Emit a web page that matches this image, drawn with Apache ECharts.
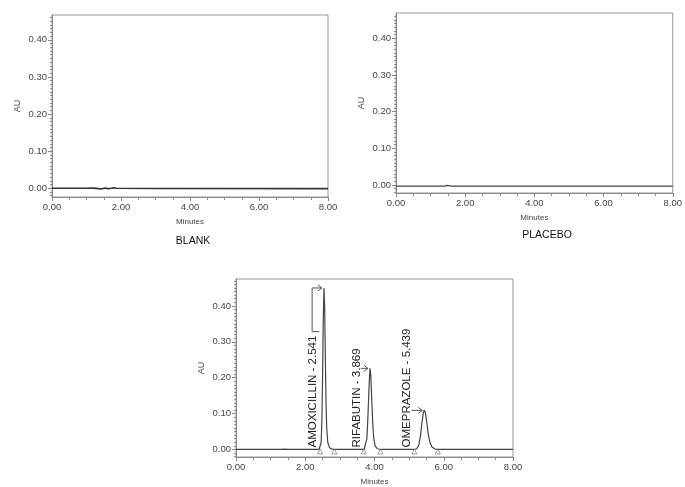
<!DOCTYPE html>
<html lang="en">
<head>
  <meta charset="UTF-8">
  <title>Chromatograms</title>
  <style>
    html, body { margin: 0; padding: 0; background: #fff; }
    #main { width: 685px; height: 487px; }
  </style>
  <script src="https://cdn.jsdelivr.net/npm/echarts@6/dist/echarts.min.js"></script>
</head>
<body>
  <div id="main"></div>
  <script>
    // tick labels
    var xTicks = [0, 2, 4, 6, 8];
    var yTicks = [0, 0.1, 0.2, 0.3, 0.4];
    var panelTitles = ['BLANK', 'PLACEBO'];

    // traces, [minutes, AU]
    var blankTrace = [
      [0, 0], [1.0, 0], [1.2, 0.0005], [1.35, -0.001], [1.45, -0.0015], [1.5, -0.002],
      [1.55, 0.001], [1.62, -0.001], [1.72, 0], [1.8, 0.0015], [1.86, 0], [3, -0.0005], [8, -0.001]
    ];
    var placeboTrace = [
      [0, -0.003], [1.4, -0.003], [1.48, -0.001], [1.52, -0.004], [1.6, -0.003], [8, -0.003]
    ];
    var sampleTrace = [
      [0, 0], [1.3, 0], [1.4, 0.001], [1.45, -0.001], [1.5, 0], [2.40, 0],
      [2.43, 0.002], [2.46, 0.02], [2.48, 0.08], [2.50, 0.2], [2.52, 0.36], [2.541, 0.45],
      [2.56, 0.40], [2.58, 0.26], [2.60, 0.13], [2.62, 0.06], [2.65, 0.02], [2.70, 0.005],
      [2.78, 0.001], [2.84, 0], [3.70, 0],
      [3.75, 0.005], [3.78, 0.03], [3.81, 0.09], [3.84, 0.17], [3.869, 0.226], [3.89, 0.21],
      [3.92, 0.14], [3.95, 0.07], [3.98, 0.03], [4.02, 0.01], [4.08, 0.002], [4.17, 0], [5.15, 0],
      [5.22, 0.002], [5.28, 0.012], [5.33, 0.04], [5.37, 0.075], [5.41, 0.102], [5.439, 0.109],
      [5.47, 0.102], [5.51, 0.075], [5.55, 0.045], [5.60, 0.02], [5.66, 0.007], [5.75, 0.001],
      [5.83, 0], [8, 0]
    ];

    // peaks
    var peakNames = ['AMOXICILLIN', 'RIFABUTIN', 'OMEPRAZOLE'];
    var peakTimes = [2.541, 3.869, 5.439];
    var peakHeights = [0.45, 0.226, 0.109];
    var peakStarts = [2.43, 3.69, 5.15];
    var peakEnds = [2.84, 4.17, 5.83];

    var FONT = '"Liberation Sans", Arial, sans-serif';
    var minorY = [];
    for (var k = -2; k <= 47; k++) minorY.push(k / 100);

    var grids = [
      { left: 52, top: 15, width: 276, height: 182, ymin: -0.0235, ymax: 0.467 },
      { left: 396, top: 13, width: 277, height: 180, ymin: -0.022, ymax: 0.469 },
      { left: 236, top: 279, width: 277, height: 181, ymin: -0.021, ymax: 0.475 }
    ];

    var xAxes = [], yAxes = [];
    grids.forEach(function (g, i) {
      xAxes.push({
        type: 'value', gridIndex: i, min: 0, max: 8, interval: 2,
        name: 'Minutes', nameLocation: 'middle', nameGap: 21,
        nameTextStyle: { fontFamily: FONT, fontSize: 8, color: '#444' },
        axisLine: { onZero: false, lineStyle: { color: '#888', width: 1 } },
        axisTick: { length: 4, lineStyle: { color: '#888' } },
        minorTick: { show: true, splitNumber: 4, length: 3, lineStyle: { color: '#888' } },
        axisLabel: { fontFamily: FONT, fontSize: 9.5, color: '#444', margin: 5,
          formatter: function (v) { return v.toFixed(2); } },
        splitLine: { show: false }
      });
      yAxes.push({
        type: 'value', gridIndex: i, min: g.ymin, max: g.ymax, position: 'left',
        name: 'AU', nameLocation: 'middle', nameGap: 30,
        nameTextStyle: { fontFamily: FONT, fontSize: 9, color: '#444' },
        axisLine: { show: true, lineStyle: { color: '#888', width: 1 } },
        axisTick: { length: 4, customValues: yTicks, lineStyle: { color: '#888' } },
        axisLabel: { fontFamily: FONT, fontSize: 9.5, color: '#444', margin: 5, customValues: yTicks,
          formatter: function (v) { return v.toFixed(2); } },
        splitLine: { show: false }
      });
      // minor ticks on the same side
      yAxes.push({
        type: 'value', gridIndex: i, min: g.ymin, max: g.ymax, position: 'left',
        axisLine: { show: false },
        axisTick: { length: 2, customValues: minorY, lineStyle: { color: '#888' } },
        axisLabel: { show: false },
        splitLine: { show: false }
      });
    });

    var measureCtx = document.createElement('canvas').getContext('2d');
    var LABEL_FONT = '11.5px ' + FONT;
    measureCtx.font = LABEL_FONT;

    function renderPeakLabel(params, api) {
      var i = params.dataIndex;
      var apex = api.coord([peakTimes[i], peakHeights[i]]);
      var start = api.coord([peakStarts[i], 0]);
      var cx = start[0] - 7;
      var baseY = start[1] - 2;
      var text = peakNames[i] + ' - ' + peakTimes[i].toFixed(3);
      var w = measureCtx.measureText(text).width;
      var topY = baseY - w;
      var ax = apex[0] - 2, ay = apex[1];
      var pts;
      if (topY - 4 > ay) {
        pts = [[cx + 6, topY - 4], [cx - 1, topY - 4], [cx - 1, ay], [ax, ay]];
      } else {
        pts = [[cx + 4, ay], [ax, ay]];
      }
      return {
        type: 'group',
        children: [
          { type: 'text', x: cx, y: baseY, rotation: Math.PI / 2,
            style: { text: text, font: LABEL_FONT, fill: '#222', align: 'left', verticalAlign: 'middle' } },
          { type: 'polyline', shape: { points: pts }, style: { stroke: '#555', fill: null, lineWidth: 1 } },
          { type: 'polyline', shape: { points: [[ax - 4, ay - 3], [ax, ay], [ax - 4, ay + 3]] },
            style: { stroke: '#555', fill: null, lineWidth: 1 } }
        ]
      };
    }

    var marks = [];
    peakStarts.forEach(function (t) { marks.push([t, 0]); });
    peakEnds.forEach(function (t) { marks.push([t, 0]); });

    var chart = echarts.init(document.getElementById('main'));
    chart.setOption({
      animation: false,
      grid: grids.map(function (g) {
        return { left: g.left, top: g.top, width: g.width, height: g.height,
          show: true, borderColor: '#999', borderWidth: 1, backgroundColor: 'transparent' };
      }),
      xAxis: xAxes,
      yAxis: yAxes,
      graphic: [
        { type: 'text', x: 193, y: 241, style: { text: panelTitles[0], font: '10.5px ' + FONT, fill: '#111',
          align: 'center', verticalAlign: 'middle' } },
        { type: 'text', x: 547, y: 235, style: { text: panelTitles[1], font: '10.5px ' + FONT, fill: '#111',
          align: 'center', verticalAlign: 'middle' } }
      ],
      series: [
        { type: 'line', xAxisIndex: 0, yAxisIndex: 0, data: blankTrace, showSymbol: false,
          lineStyle: { color: '#333', width: 1.6 } },
        { type: 'line', xAxisIndex: 1, yAxisIndex: 2, data: placeboTrace, showSymbol: false,
          lineStyle: { color: '#444', width: 1.3 } },
        { type: 'line', xAxisIndex: 2, yAxisIndex: 4, data: sampleTrace, showSymbol: false,
          lineStyle: { color: '#444', width: 1.2 } },
        { type: 'scatter', xAxisIndex: 2, yAxisIndex: 4, data: marks, symbol: 'triangle',
          symbolSize: 5, symbolOffset: [0, 2], z: 5,
          itemStyle: { color: '#fff', borderColor: '#666', borderWidth: 0.8 } },
        { type: 'custom', xAxisIndex: 2, yAxisIndex: 4, data: peakTimes.map(function (t, i) { return [t, peakHeights[i]]; }),
          renderItem: renderPeakLabel, z: 6 }
      ]
    });
  </script>
</body>
</html>
